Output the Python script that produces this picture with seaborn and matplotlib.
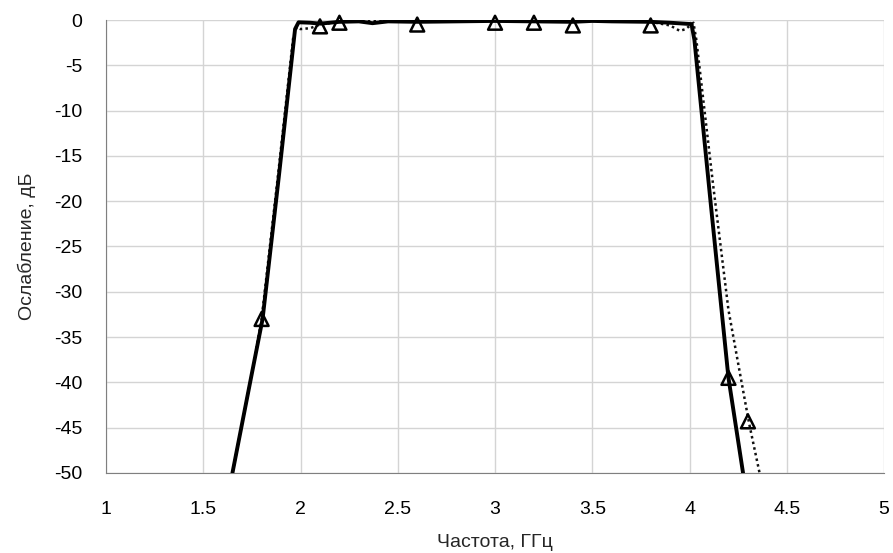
import matplotlib
matplotlib.use("Agg")
import matplotlib.pyplot as plt
import seaborn as sns
import pandas as pd

# measured (solid)
f_meas = [1.65, 1.70, 1.75, 1.805, 1.89, 1.972, 1.99, 2.05, 2.10, 2.20, 2.30,
          2.37, 2.45, 2.60, 2.80, 3.00, 3.20, 3.40, 3.50, 3.60, 3.80, 3.90, 4.01, 4.025,
          4.11, 4.20, 4.275]
a_meas = [-50, -44.5, -39, -33, -17, -1, -0.25, -0.3, -0.4, -0.2, -0.15,
          -0.35, -0.15, -0.2, -0.15, -0.1, -0.15, -0.2, -0.1, -0.15, -0.2, -0.3, -0.45, -2.2,
          -20.5, -39.5, -50]

# simulated (dotted)
f_sim = [1.65, 1.70, 1.75, 1.80, 1.885, 1.962, 1.98, 2.00, 2.05, 2.10, 2.20,
         2.40, 2.60, 2.80, 3.00, 3.20, 3.40, 3.60, 3.80, 3.90, 3.95, 3.98, 4.02, 4.035,
         4.12, 4.20, 4.265, 4.306, 4.36]
a_sim = [-50, -44.5, -39, -33, -17, -2, -0.8, -1.0, -0.9, -0.5, -0.2,
         -0.1, -0.15, -0.1, -0.1, -0.15, -0.1, -0.1, -0.2, -0.6, -1.2, -1.0, -0.3, -2.2,
         -18, -32, -39.7, -44.5, -50]

# discrete measured points (triangles)
f_pts = [1.8, 2.1, 2.2, 2.6, 3.0, 3.2, 3.4, 3.8, 4.2, 4.3]
a_pts = [-33, -0.7, -0.3, -0.5, -0.3, -0.3, -0.6, -0.6, -39.5, -44.3]

x_ticks = [1, 1.5, 2, 2.5, 3, 3.5, 4, 4.5, 5]
x_labels = ["1", "1.5", "2", "2.5", "3", "3.5", "4", "4.5", "5"]
y_ticks = [0, -5, -10, -15, -20, -25, -30, -35, -40, -45, -50]
y_labels = ["0", "-5", "-10", "-15", "-20", "-25", "-30", "-35", "-40", "-45", "-50"]

sns.set_style("white")
plt.rcParams['font.family'] = ['Liberation Sans', 'DejaVu Sans']

fig = plt.figure(figsize=(8.93, 5.53), dpi=100)
ax = fig.add_axes([0.1187, 0.1447, 0.8713, 0.8191])

df_m = pd.DataFrame({"f": f_meas, "a": a_meas})
df_s = pd.DataFrame({"f": f_sim, "a": a_sim})
df_p = pd.DataFrame({"f": f_pts, "a": a_pts})

sns.lineplot(data=df_s, x="f", y="a", ax=ax, color="#111111", lw=1.8,
             linestyle=(0, (1, 1.3)), sort=False, zorder=3)
sns.lineplot(data=df_m, x="f", y="a", ax=ax, color="black", lw=2.8, sort=False, zorder=4)
sns.scatterplot(data=df_p, x="f", y="a", ax=ax, marker="^", s=100,
                facecolor="none", edgecolor="black", linewidth=1.8, zorder=5, clip_on=False)

ax.set_xlim(1, 5)
ax.set_ylim(-50, 0)
ax.set_xticks(x_ticks)
ax.set_xticklabels(x_labels)
ax.set_yticks(y_ticks)
ax.set_yticklabels(y_labels)
ax.grid(True, color="#d4d4d4", lw=1)
ax.tick_params(length=0, labelsize=14, colors="black")
ax.tick_params(axis="x", pad=20)
ax.tick_params(axis="y", pad=17)
for s in ["top", "right"]:
    ax.spines[s].set_visible(False)
ax.spines["left"].set_color("#7f7f7f")
ax.spines["bottom"].set_color("#7f7f7f")
ax.set_xlabel("Частота, ГГц", fontsize=14, labelpad=12)
ax.set_ylabel("Ослабление, дБ", fontsize=14, labelpad=13)

fig.savefig("out.png", dpi=100)
